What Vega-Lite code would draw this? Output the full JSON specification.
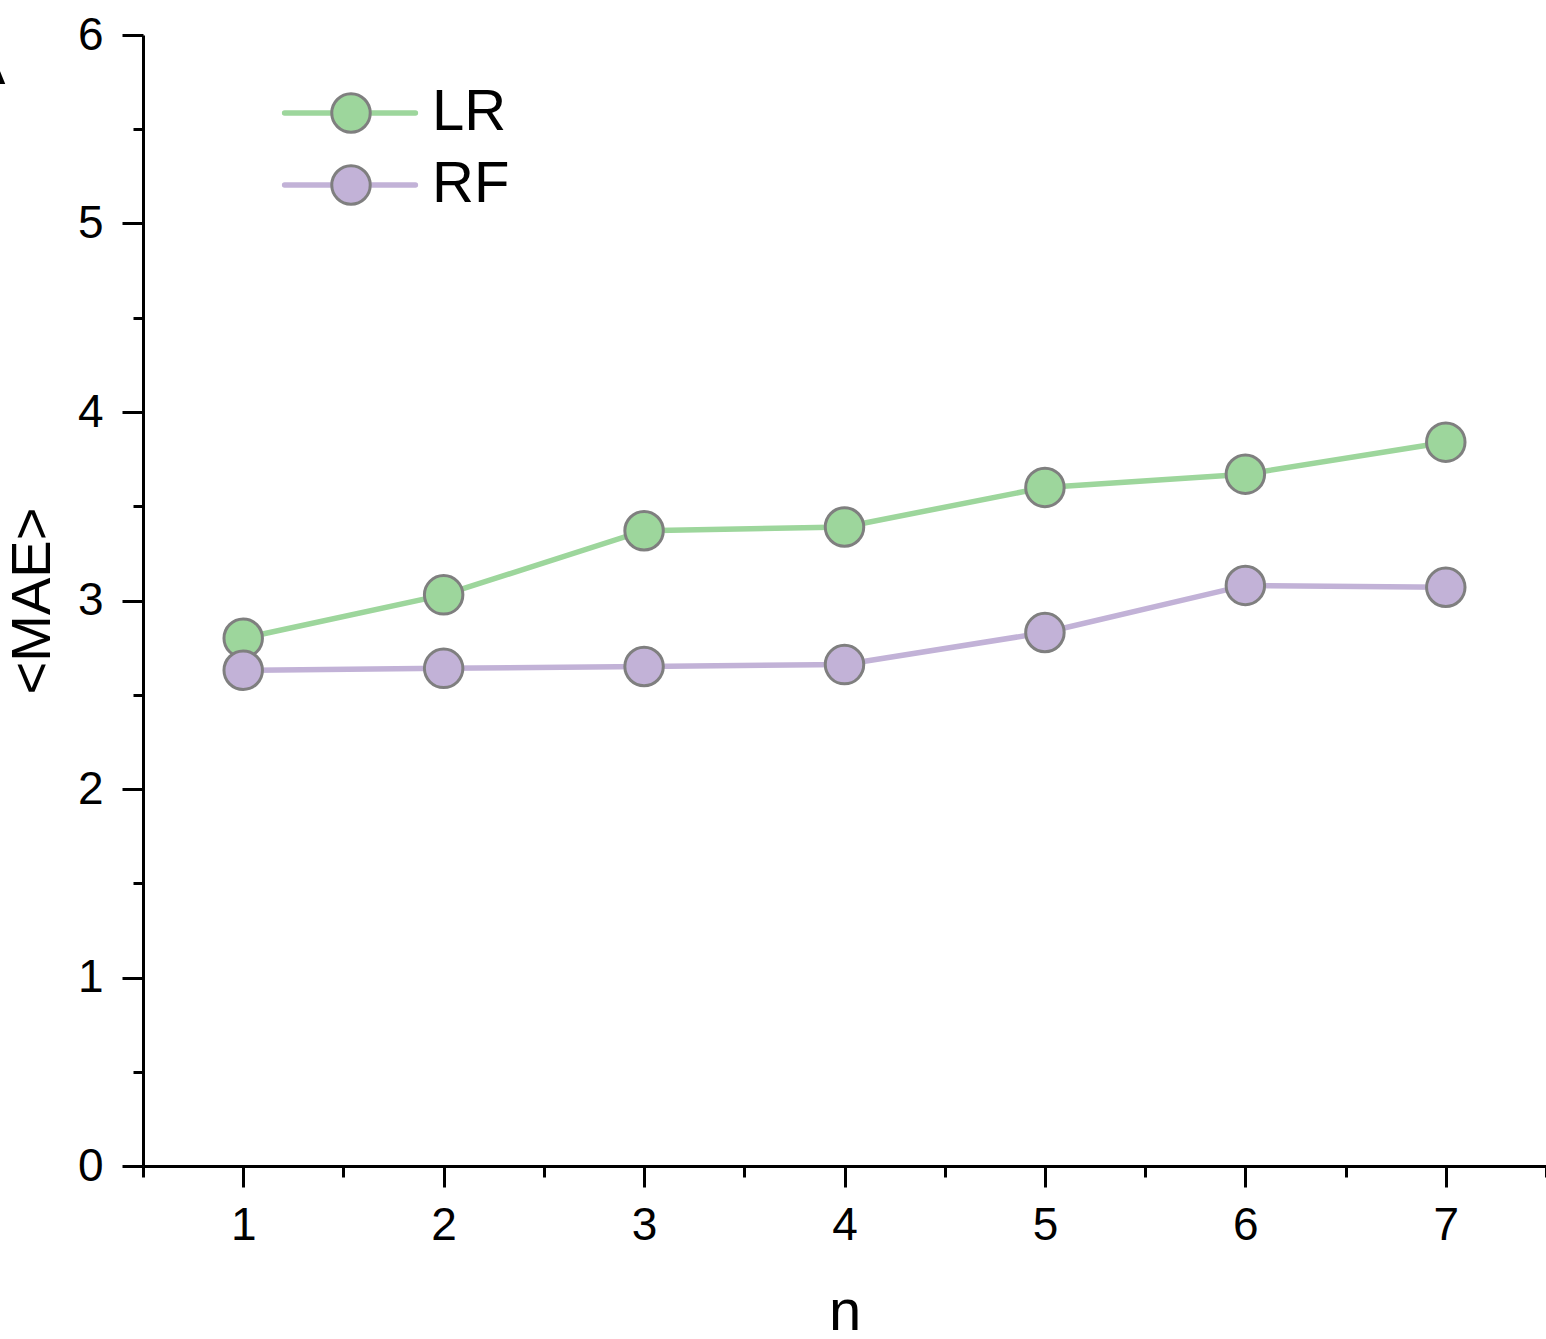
{
  "$schema": "https://vega.github.io/schema/vega-lite/v6.json",
  "width": 1403,
  "height": 1131,
  "autosize": {"type": "none"},
  "padding": {"left": 143, "top": 35, "right": 0, "bottom": 173},
  "background": "white",
  "title": {
    "text": "A",
    "anchor": "start",
    "frame": "group",
    "orient": "top",
    "font": "Liberation Sans",
    "fontSize": 56,
    "fontWeight": "normal",
    "color": "black",
    "baseline": "alphabetic",
    "offset": 0,
    "dx": -175,
    "dy": 128
  },
  "config": {
    "view": {"stroke": null},
    "font": "Liberation Sans",
    "axis": {
      "labelFont": "Liberation Sans",
      "titleFont": "Liberation Sans",
      "labelColor": "black",
      "titleColor": "black",
      "domainColor": "black",
      "domainWidth": 3,
      "tickColor": "black",
      "tickWidth": 3,
      "grid": false,
      "labelFontSize": 46,
      "titleFontWeight": "normal"
    },
    "legend": {"labelFont": "Liberation Sans"}
  },
  "data": {
    "values": [
      {"n": 1, "model": "LR", "mae": 2.80},
      {"n": 2, "model": "LR", "mae": 3.03},
      {"n": 3, "model": "LR", "mae": 3.37},
      {"n": 4, "model": "LR", "mae": 3.39},
      {"n": 5, "model": "LR", "mae": 3.60},
      {"n": 6, "model": "LR", "mae": 3.67},
      {"n": 7, "model": "LR", "mae": 3.84},
      {"n": 1, "model": "RF", "mae": 2.63},
      {"n": 2, "model": "RF", "mae": 2.64},
      {"n": 3, "model": "RF", "mae": 2.65},
      {"n": 4, "model": "RF", "mae": 2.66},
      {"n": 5, "model": "RF", "mae": 2.83},
      {"n": 6, "model": "RF", "mae": 3.08},
      {"n": 7, "model": "RF", "mae": 3.07}
    ]
  },
  "encoding": {
    "x": {
      "field": "n",
      "type": "quantitative",
      "scale": {"domain": [0.5, 7.5], "nice": false, "zero": false},
      "axis": {
        "title": "n",
        "titleFontSize": 58,
        "titlePadding": 35,
        "values": [0.5, 1, 1.5, 2, 2.5, 3, 3.5, 4, 4.5, 5, 5.5, 6, 6.5, 7, 7.5],
        "labelExpr": "datum.value % 1 == 0 ? format(datum.value, 'd') : ''",
        "tickSize": {"condition": {"test": "datum.value % 1 != 0", "value": 11}, "value": 21},
        "tickWidth": 3,
        "domainWidth": 3,
        "labelPadding": 16,
        "labelFlush": false,
        "labelOverlap": false,
        "encode": {"ticks": {"update": {"strokeWidth": {"value": 3}, "stroke": {"value": "black"}}}}
      }
    },
    "y": {
      "field": "mae",
      "type": "quantitative",
      "scale": {"domain": [0, 6], "nice": false},
      "axis": {
        "title": "<MAE>",
        "titleFontSize": 56,
        "titlePadding": 16,
        "values": [0, 0.5, 1, 1.5, 2, 2.5, 3, 3.5, 4, 4.5, 5, 5.5, 6],
        "labelExpr": "datum.value % 1 == 0 ? format(datum.value, 'd') : ''",
        "tickSize": {"condition": {"test": "datum.value % 1 != 0", "value": 10}, "value": 21},
        "tickWidth": 3,
        "domainWidth": 3,
        "labelPadding": 19,
        "labelFlush": false,
        "labelOverlap": false,
        "encode": {"ticks": {"update": {"strokeWidth": {"value": 3}, "stroke": {"value": "black"}}}}
      }
    }
  },
  "layer": [
    {
      "mark": {"type": "line", "strokeWidth": 5.5, "strokeCap": "round"},
      "encoding": {
        "color": {
          "field": "model",
          "type": "nominal",
          "scale": {"range": ["#9dd69c", "#c2b2d7"]},
          "legend": {
            "title": null,
            "orient": "none",
            "legendX": 178,
            "legendY": 49,
            "padding": 0,
            "symbolType": "M-3.4,0L3.4,0",
            "symbolSize": 1480,
            "symbolStrokeWidth": 5.5,
            "labelFontSize": 58,
            "labelOffset": 53,
            "rowPadding": 14,
            "zindex": 1,
            "encode": {"symbols": {"update": {"strokeCap": {"value": "round"}}}}
          }
        }
      }
    },
    {
      "mark": {"type": "point", "shape": "circle", "filled": true, "size": 1480, "opacity": 1, "stroke": "#7f7f7f", "strokeWidth": 3},
      "encoding": {
        "fill": {
          "field": "model",
          "type": "nominal",
          "scale": {"domain": ["LR", "RF"], "range": ["#9dd69c", "#c2b2d7"]},
          "legend": {
            "title": null,
            "orient": "none",
            "legendX": 179,
            "legendY": 49,
            "padding": 0,
            "symbolType": "circle",
            "symbolSize": 1480,
            "symbolStrokeColor": "#7f7f7f",
            "symbolStrokeWidth": 3,
            "symbolOpacity": 1,
            "labelFontSize": 58,
            "labelOffset": 55,
            "labelOpacity": 0,
            "rowPadding": 14,
            "zindex": 2
          }
        }
      }
    }
  ]
}
